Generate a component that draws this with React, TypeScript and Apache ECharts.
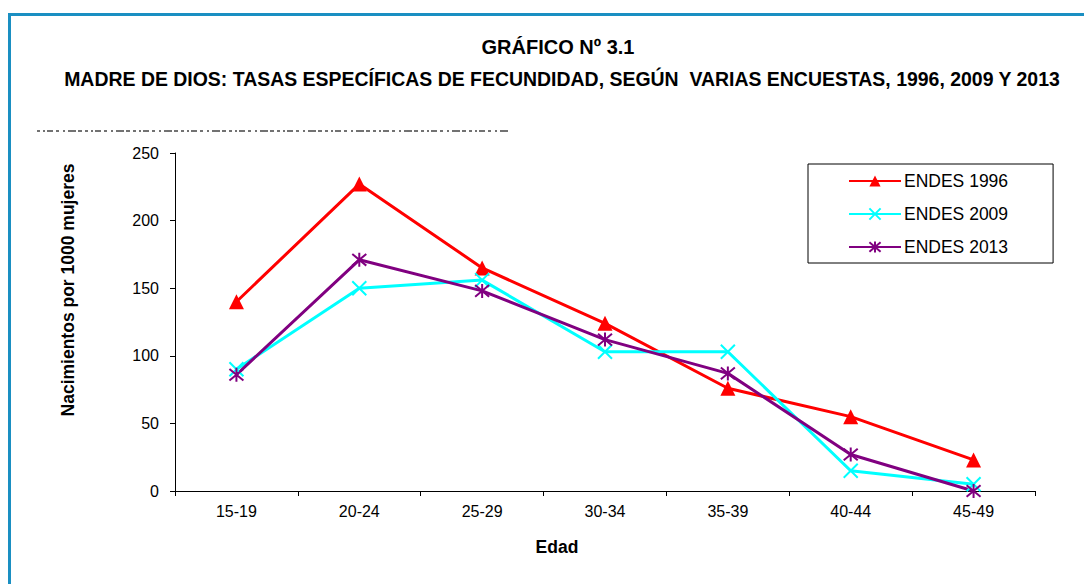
import React, { useEffect, useRef } from "react";
import * as echarts from "echarts";

const categories = ["15-19", "20-24", "25-29", "30-34", "35-39", "40-44", "45-49"];
const endes1996 = [140, 227, 165, 124, 76, 55, 23];
const endes2009 = [90, 150, 156, 103, 103, 15, 5];
const endes2013 = [86, 171, 148, 112, 87, 27, 0];
const seriesNames = ["ENDES 1996", "ENDES 2009", "ENDES 2013"];

const FONT = "'Liberation Sans', Arial, sans-serif";

const X_PATH = "path://M0 0L10 10M10 0L0 10";
const STAR_PATH = "path://M0 0L10 10M10 0L0 10M5 -1L5 11";

export default function App() {
  const ref = useRef<HTMLDivElement>(null);
  useEffect(() => {
    if (!ref.current) return;
    const chart = echarts.init(ref.current, null, { renderer: "svg" });
    chart.setOption({
      animation: false,
      backgroundColor: "#ffffff",
      textStyle: { fontFamily: FONT },
      grid: { left: 175, right: 49, top: 153, bottom: 93, containLabel: false },
      legend: {
        orient: "vertical",
        left: 808,
        top: 164,
        padding: [8, 45, 7, 40],
        itemGap: 15,
        itemWidth: 52,
        itemHeight: 14,
        borderColor: "#000000",
        borderWidth: 1,
        textStyle: { fontFamily: FONT, fontSize: 17.5, color: "#000000", padding: [0, 0, 0, -2] },
        data: seriesNames,
      },
      xAxis: {
        type: "category",
        data: categories,
        boundaryGap: true,
        axisLine: { lineStyle: { color: "#000000", width: 1 } },
        axisTick: { show: true, length: 5, lineStyle: { color: "#000000" } },
        axisLabel: { color: "#000000", fontSize: 16, fontFamily: FONT, margin: 12 },
        splitLine: { show: false },
      },
      yAxis: {
        type: "value",
        min: 0,
        max: 250,
        interval: 50,
        axisLine: { show: true, lineStyle: { color: "#000000", width: 1 } },
        axisTick: { show: true, length: 5, lineStyle: { color: "#000000" } },
        axisLabel: { color: "#000000", fontSize: 16, fontFamily: FONT, margin: 16 },
        splitLine: { show: false },
      },
      graphic: [
        {
          type: "rect",
          shape: { x: 9.5, y: 14.5, width: 1100, height: 600 },
          style: { fill: "none", stroke: "#1a8fc2", lineWidth: 3 },
          silent: true,
        },
        {
          type: "text",
          x: 558,
          y: 47,
          style: {
            text: "GRÁFICO Nº 3.1",
            font: "bold 20px " + FONT,
            fill: "#000000",
            align: "center",
            verticalAlign: "middle",
          },
        },
        {
          type: "text",
          x: 562,
          y: 79,
          scaleX: 0.973,
          style: {
            text: "MADRE DE DIOS: TASAS ESPECÍFICAS DE FECUNDIDAD, SEGÚN  VARIAS ENCUESTAS, 1996, 2009 Y 2013",
            font: "bold 20px " + FONT,
            fill: "#000000",
            align: "center",
            verticalAlign: "middle",
          },
        },
        {
          type: "line",
          shape: { x1: 37, y1: 131, x2: 510, y2: 131 },
          style: { stroke: "#444444", lineWidth: 1.5, lineDash: [3, 3, 2, 2, 6, 3, 3, 4, 2, 3, 8, 2, 4, 3] },
          silent: true,
        },
        {
          type: "text",
          x: 68,
          y: 290,
          rotation: Math.PI / 2,
          style: {
            text: "Nacimientos por 1000 mujeres",
            font: "bold 17.5px " + FONT,
            fill: "#000000",
            align: "center",
            verticalAlign: "middle",
          },
        },
        {
          type: "text",
          x: 557,
          y: 547,
          style: {
            text: "Edad",
            font: "bold 17.5px " + FONT,
            fill: "#000000",
            align: "center",
            verticalAlign: "middle",
          },
        },
      ],
      series: [
        {
          name: seriesNames[0],
          type: "line",
          data: endes1996,
          symbol: "triangle",
          symbolSize: 15,
          lineStyle: { color: "#ff0000", width: 3 },
          itemStyle: { color: "#ff0000" },
        },
        {
          name: seriesNames[1],
          type: "line",
          data: endes2009,
          symbol: X_PATH,
          symbolSize: 14,
          lineStyle: { color: "#00ffff", width: 3 },
          itemStyle: { color: "#00ffff", borderColor: "#00ffff", borderWidth: 2 },
        },
        {
          name: seriesNames[2],
          type: "line",
          data: endes2013,
          symbol: STAR_PATH,
          symbolSize: 14,
          lineStyle: { color: "#800080", width: 3 },
          itemStyle: { color: "#800080", borderColor: "#800080", borderWidth: 2 },
        },
      ],
    });
    return () => chart.dispose();
  }, []);
  return (
    <div
      ref={ref}
      style={{ position: "fixed", left: 0, top: 0, width: 1084, height: 584 }}
    />
  );
}
